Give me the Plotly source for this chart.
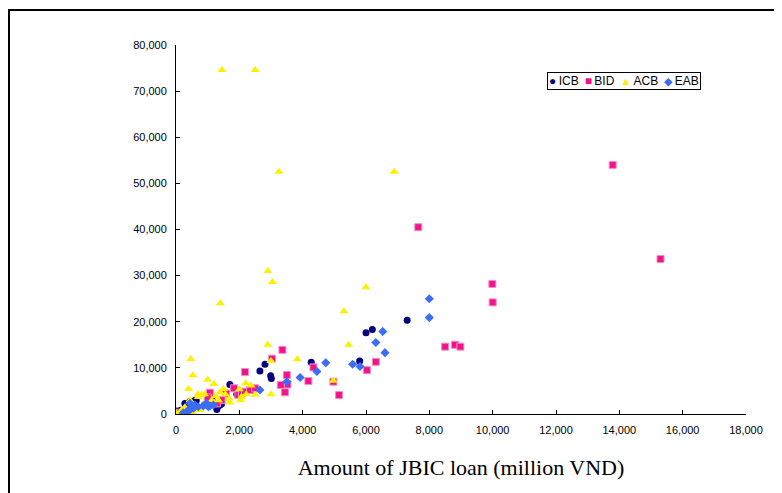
import plotly.graph_objects as go

# ---- Data ----
icb_x = [7300, 6200, 6000, 5800, 4270, 2810, 2650, 2990, 3010, 1700, 1920, 1130, 1290, 1390,
         1440, 1320, 600, 440, 280, 340, 20, 150, 900, 640]
icb_y = [20300, 18300, 17600, 11500, 11200, 10800, 9300, 8300, 7700, 6400, 4300, 3750, 1000, 1950,
         2200, 1600, 3000, 2700, 2300, 1900, 650, 800, 2000, 2900]

bid_x = [13790, 15300, 7650, 9990, 10000, 8500, 8810, 8980, 6310, 6030, 5150, 4970, 4180, 4340,
         3360, 3030, 3500, 3520, 3310, 3440, 2180, 1830, 1970, 2080, 2180, 2340, 2500, 1070,
         1580, 1440, 1180, 1290, 70, 340, 1000, 600]
bid_y = [54000, 33600, 40500, 28200, 24200, 14600, 15000, 14600, 11300, 9500, 4100, 7000, 7150, 10100,
         13900, 12000, 8450, 6400, 6300, 4700, 9100, 5570, 4120, 4490, 4830, 5200, 5570, 4620,
         4450, 3000, 2320, 2300, 280, 300, 3600, 1500]

acb_x = [1450, 2500, 3250, 6890, 2900, 3050, 1400, 6000, 5300, 5450, 2900, 3000, 3830, 470,
         530, 400, 1000, 1200, 3000, 4970, 690, 800, 900, 1500, 1390, 1560, 1700, 1680, 2000,
         2200, 2370, 2500, 2220, 2040, 2070, 1250, 1340, 280, 440, 180, 600, 860, 1130, 700,
         20, 550, 760]
acb_y = [74600, 74600, 52500, 52500, 31000, 28600, 24000, 27500, 22300, 15000, 15000, 11500, 11850, 11900,
         8400, 5400, 7400, 6500, 4300, 7200, 4300, 4100, 4300, 5400, 4700, 4300, 2500, 3300, 5350,
         6650, 6200, 4200, 4270, 3000, 3750, 3900, 3000, 1450, 3000, 870, 870, 1950, 3000, 3700,
         150, 150, 870]

eab_x = [8000, 8000, 6530, 6310, 6600, 5580, 5810, 4730, 4450, 3920, 3500, 2650, 970, 860,
         1070, 700, 550, 440, 230, 1180, 600, 390, 1020, 440]
eab_y = [25000, 20900, 17900, 15500, 13300, 10800, 10300, 11100, 9200, 7900, 7000, 5200, 2300, 1730,
         1730, 1580, 1240, 870, 280, 1950, 1950, 870, 1580, 2320]

series_names = ["ICB", "BID", "ACB", "EAB"]
x_ticks = list(range(0, 18001, 2000))
y_ticks = list(range(0, 80001, 10000))
x_title = "Amount of JBIC loan (million VND)"

# styles
colors = ["#000080", "#F0148A", "#FFF000", "#3A6CF5"]
symbols = ["circle", "square", "triangle-up", "diamond"]
glyphs = ["\u25CF", "\u25A0", "\u25B2", "\u25C6"]
glyph_sizes = [12, 12, 11, 11]
sizes = [7, 7, 8, 7]

fig = go.Figure()
for name, xs, ys, col, sym, sz in zip(series_names, [icb_x, bid_x, acb_x, eab_x],
                                      [icb_y, bid_y, acb_y, eab_y], colors, symbols, sizes):
    line = dict(width=1, color="#F88CC4") if sym == "square" else dict(width=0)
    fig.add_trace(go.Scatter(x=xs, y=ys, mode="markers", name=name, showlegend=False,
                             marker=dict(symbol=sym, size=sz, color=col, line=line)))

# page body has an 8px margin, so the figure is offset by (8, 8) in the window
OFF = 8
W, H = 782 - OFF, 493 - OFF
L, T = 176 - OFF, 45 - OFF
R = W - (746 - OFF)
B = H - (414 - OFF)
pw = W - L - R
ph = H - T - B

def px_x(v):  # window pixel -> paper x
    return (v - OFF - L) / pw

def px_y(v):  # window pixel -> paper y
    return (H - B - (v - OFF)) / ph

fig.update_layout(
    width=W, height=H, autosize=False,
    margin=dict(l=L, r=R, t=T, b=B, pad=0),
    paper_bgcolor="white", plot_bgcolor="white",
    font=dict(family="Liberation Sans, Arial, sans-serif", size=11, color="black"),
    showlegend=False,
    xaxis=dict(range=[0, 18000], tickvals=x_ticks, ticktext=[f"{v:,}" for v in x_ticks],
               showgrid=False, zeroline=False, showline=True, linecolor="black", linewidth=1,
               ticks="inside", ticklen=4, tickcolor="black", ticklabelstandoff=6,
               title=dict(text=x_title, standoff=24,
                          font=dict(family="Liberation Serif, Times New Roman, serif", size=22))),
    yaxis=dict(range=[0, 80000], tickvals=y_ticks, ticktext=[f"{v:,}" for v in y_ticks],
               showgrid=False, zeroline=False, showline=True, linecolor="black", linewidth=1,
               ticks="inside", ticklen=4, tickcolor="black", ticklabelstandoff=6),
)

# compact legend box (as in the reference)
legend_text = "\u2002".join(
    f"<span style='color:{c};font-size:{gs}px'>{g}</span>\u2009{n}"
    for g, c, gs, n in zip(glyphs, colors, glyph_sizes, series_names)
)
fig.add_annotation(xref="paper", yref="paper", x=px_x(547), y=px_y(72),
                   xanchor="left", yanchor="top", showarrow=False, align="left",
                   text=legend_text, font=dict(size=12, family="Liberation Sans, Arial, sans-serif"),
                   bgcolor="white", bordercolor="black", borderwidth=1, borderpad=1)

# outer frame (extends beyond the visible area on right and bottom)
fig.add_shape(type="rect", xref="paper", yref="paper",
              x0=px_x(9), x1=px_x(820), y0=px_y(530), y1=px_y(10),
              line=dict(color="black", width=2), fillcolor="rgba(0,0,0,0)", layer="below")

fig.write_html("out.html")
